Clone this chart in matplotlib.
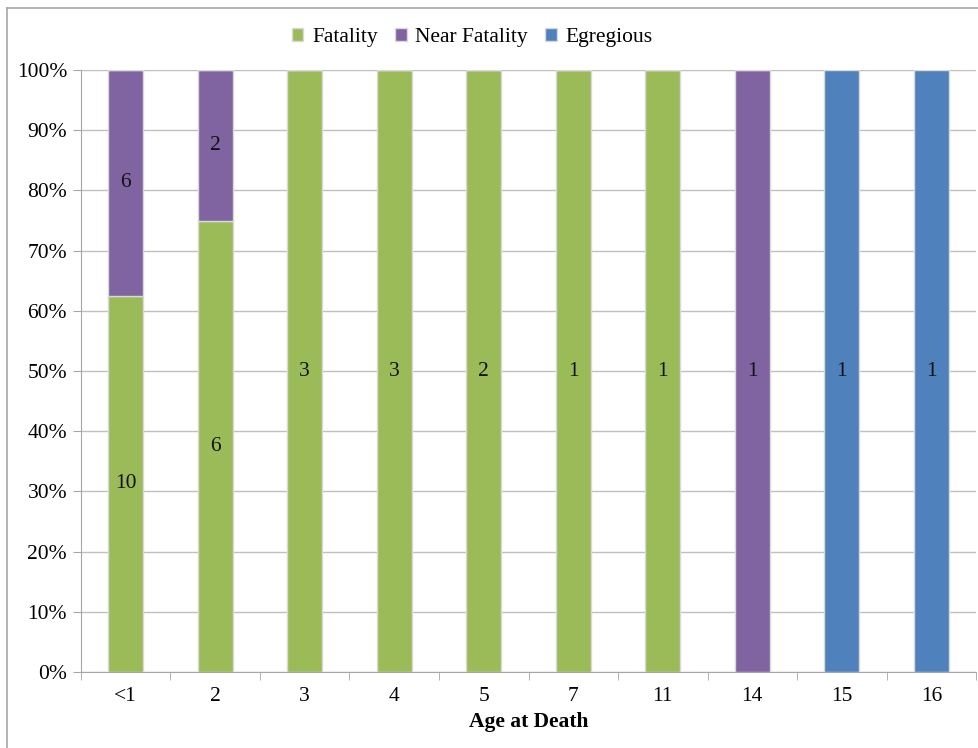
import matplotlib.pyplot as plt
from matplotlib.lines import Line2D
from matplotlib.ticker import FixedLocator, PercentFormatter
import numpy as np

ages = ['<1', '2', '3', '4', '5', '7', '11', '14', '15', '16']
fatality = [10, 6, 3, 3, 2, 1, 1, 0, 0, 0]
near_fatality = [6, 2, 0, 0, 0, 0, 0, 1, 0, 0]
egregious = [0, 0, 0, 0, 0, 0, 0, 0, 1, 1]

series = [('Fatality', fatality, '#9BBB59'),
          ('Near Fatality', near_fatality, '#8064A2'),
          ('Egregious', egregious, '#4F81BD')]

plt.rcParams['font.family'] = ['Liberation Serif', 'DejaVu Serif']
plt.rcParams['font.size'] = 15.5

totals = np.array(fatality) + np.array(near_fatality) + np.array(egregious)
x = np.arange(len(ages))

fig = plt.figure(figsize=(9.79, 7.48), dpi=100)
ax = fig.add_axes([0.0827, 0.1016, 0.9143, 0.8048])

bottom = np.zeros(len(ages))
for name, counts, color in series:
    counts = np.array(counts)
    share = counts / totals * 100
    ax.bar(x, share, width=0.39, bottom=bottom, color=color, label=name,
           edgecolor='#d9d9d9', linewidth=1, zorder=3)
    for xi, c, s, b in zip(x, counts, share, bottom):
        if c > 0:
            ax.text(xi, b + s / 2, str(c), ha='center', va='center',
                    color='#111111', zorder=4)
    bottom += share

ax.set_xlim(-0.5, len(ages) - 0.5)
ax.set_ylim(0, 100)
ax.set_yticks(np.arange(0, 101, 10))
ax.yaxis.set_major_formatter(PercentFormatter(decimals=0))
ax.set_xticks(x)
ax.set_xticklabels(ages)
ax.xaxis.set_minor_locator(FixedLocator(np.arange(-0.5, len(ages), 1)))
ax.tick_params(axis='x', which='major', length=0, pad=11)
ax.tick_params(axis='x', which='minor', length=6, color='#a6a6a6', direction='out')
ax.tick_params(axis='y', length=6, color='#a6a6a6', direction='out', pad=4)
ax.grid(axis='y', color='#c0c0c0', linewidth=1, zorder=0)
for side in ['top', 'right']:
    ax.spines[side].set_visible(False)
for side in ['left', 'bottom']:
    ax.spines[side].set_color('#a6a6a6')
ax.set_xlabel('Age at Death', fontweight='bold', labelpad=4)

ax.legend(loc='lower center', bbox_to_anchor=(0.437, 1.013), ncol=3, frameon=False,
          handlelength=0.55, handleheight=0.55, handletextpad=0.4, columnspacing=0.8,
          borderpad=0.2)

# outer frame, cut off on right and bottom
fig.add_artist(Line2D([7.5 / 979, 7.5 / 979], [0, 1 - 8 / 748], color='#a6a6a6', lw=1.2))
fig.add_artist(Line2D([7.5 / 979, 1], [1 - 8 / 748, 1 - 8 / 748], color='#a6a6a6', lw=1.2))

fig.savefig('out.png', dpi=100)
